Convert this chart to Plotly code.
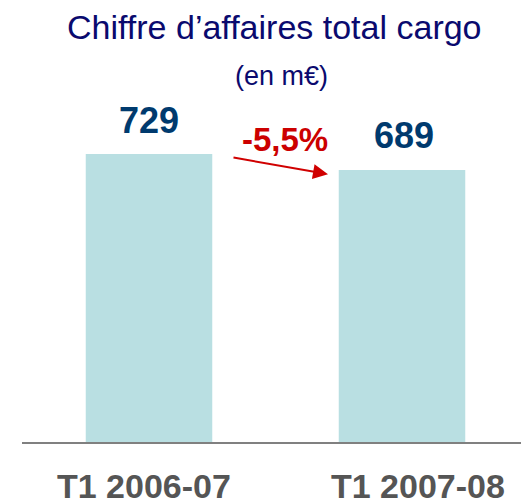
import plotly.graph_objects as go

categories = ["T1 2006-07", "T1 2007-08"]
values = [729, 689]
title = "Chiffre d\u2019affaires total cargo"
subtitle = "(en m\u20ac)"

change = (values[1] - values[0]) / values[0] * 100
change_label = f"{change:.1f}%".replace(".", ",")

xs = list(range(len(categories)))

fig = go.Figure()
fig.add_trace(go.Bar(
    x=xs, y=values, width=0.5,
    marker=dict(color="#b9dfe2", line=dict(width=0)),
    hoverinfo="skip",
))

annotations = []
for i, v in zip(xs, values):
    annotations.append(dict(
        x=i, y=v, xref="x", yref="y", text=f"<b>{v}</b>", showarrow=False,
        yanchor="middle", yshift=34, xshift=2 if i else 0,
        font=dict(family="Liberation Sans, Arial", size=36, color="#003a6e"),
    ))
label_shifts = [-5, 16]
for i, c in zip(xs, categories):
    annotations.append(dict(
        x=i, y=0, xref="x", yref="y", text=f"<b>{c}</b>", showarrow=False,
        yanchor="middle", yshift=-44, xshift=label_shifts[i],
        font=dict(family="Liberation Sans, Arial", size=34, color="#555555"),
    ))
# change arrow
annotations.append(dict(
    x=0.7075, y=values[1] - 11, ax=0.328, ay=values[0] - 8,
    xref="x", yref="y", axref="x", ayref="y", text="", showarrow=True,
    arrowhead=2, arrowsize=1.5, arrowwidth=2, arrowcolor="#d00000",
))
annotations.append(dict(
    x=0.5, y=values[0] + 36, xref="x", yref="y", text=f"<b>{change_label}</b>",
    showarrow=False, xshift=9, yanchor="middle",
    font=dict(family="Liberation Sans, Arial", size=33, color="#cc0000"),
))
annotations.append(dict(
    x=0.499, y=1, xref="paper", yref="paper", text=title, showarrow=False,
    yanchor="middle", yshift=73,
    font=dict(family="Liberation Sans, Arial", size=34, color="#0a0a6e"),
))
annotations.append(dict(
    x=0.511, y=1, xref="paper", yref="paper", text=subtitle, showarrow=False,
    yanchor="middle", yshift=24,
    font=dict(family="Liberation Sans, Arial", size=27, color="#0a0a6e"),
))

fig.update_layout(
    width=529, height=500,
    margin=dict(l=14, r=8, t=92, b=66),
    paper_bgcolor="white", plot_bgcolor="white",
    showlegend=False,
    annotations=annotations,
    xaxis=dict(range=[-0.502, 1.502], showline=True, linecolor="#808080", linewidth=2,
               showticklabels=False, ticks="", showgrid=False, zeroline=False, fixedrange=True),
    yaxis=dict(range=[0, 866], visible=False, showgrid=False, zeroline=False, fixedrange=True),
)

fig.write_html("out.html", config={"displayModeBar": False})
